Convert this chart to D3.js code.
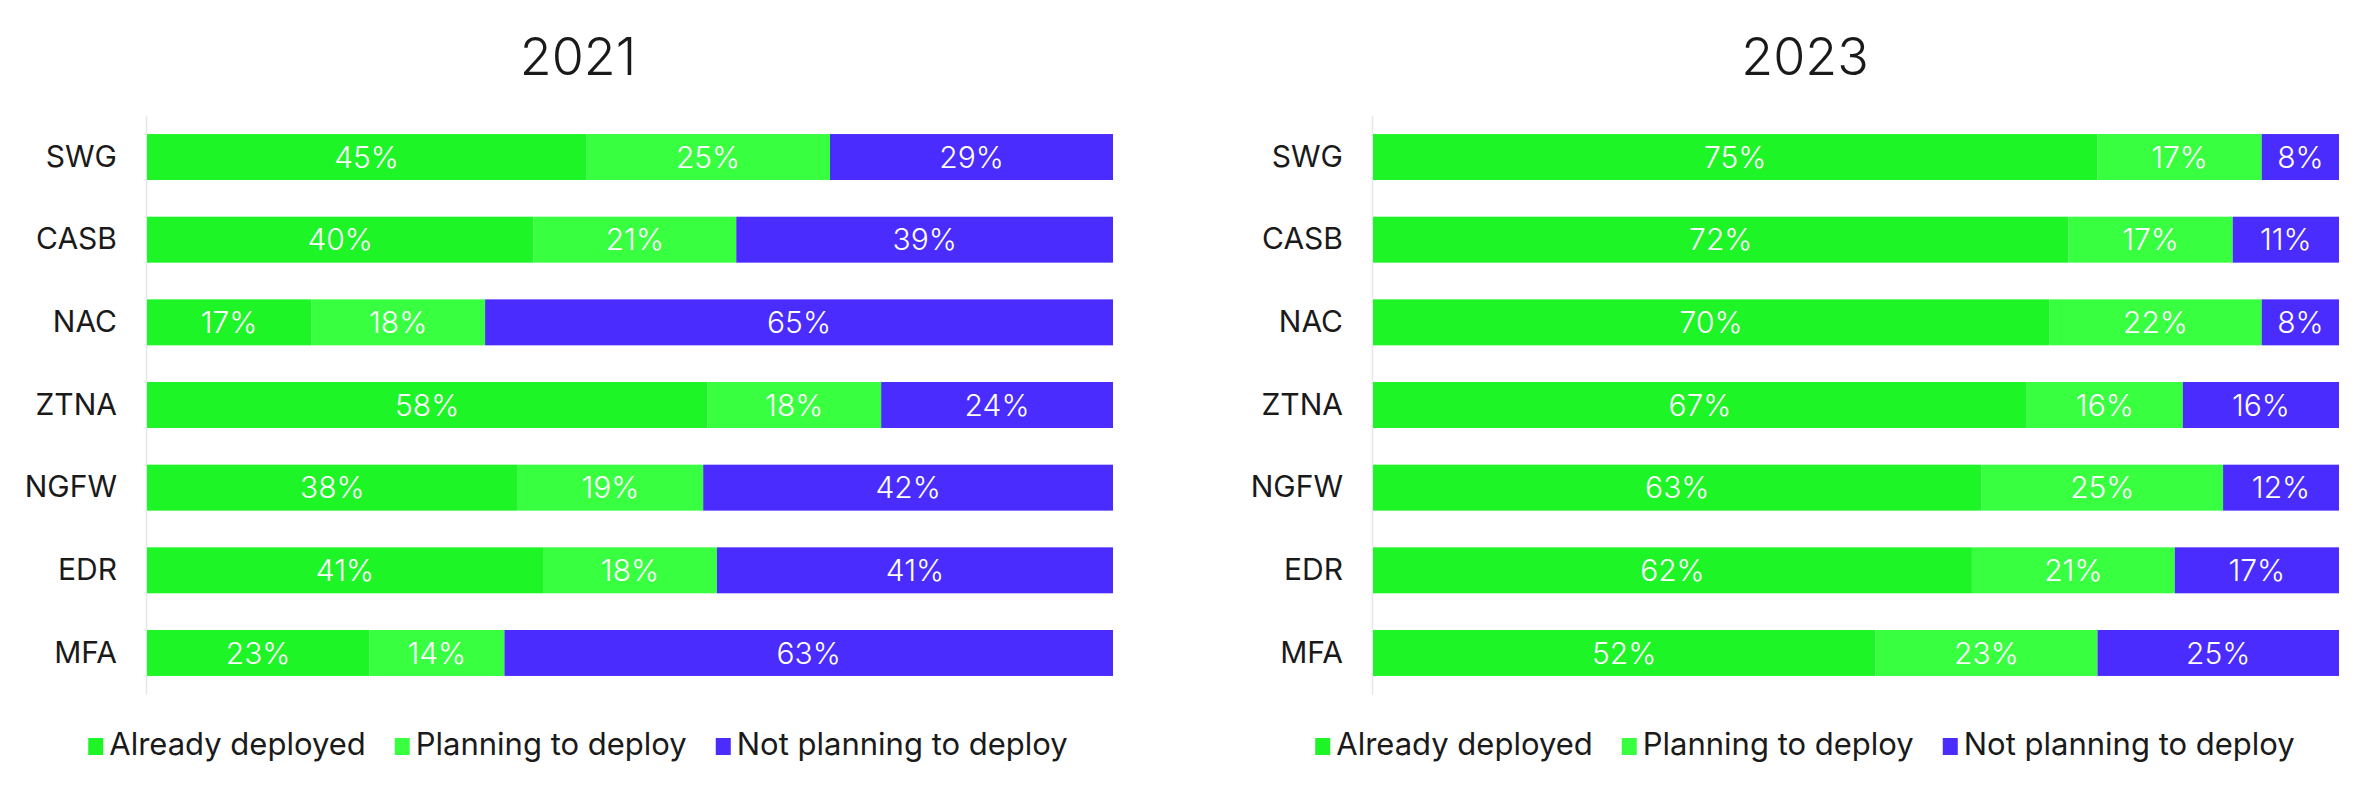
<!DOCTYPE html>
<html>
<head>
<meta charset="utf-8">
<script src="https://cdn.jsdelivr.net/npm/d3@7"></script>
<style>
  body { margin: 0; background: #fff; }
  svg { display: block; font-family: Inter, "Noto Sans", sans-serif; }
</style>
</head>
<body>
<div id="chart"></div>
<script>
// ************************** data **************************
const categories = ["SWG", "CASB", "NAC", "ZTNA", "NGFW", "EDR", "MFA"];
const seriesNames = ["Already deployed", "Planning to deploy", "Not planning to deploy"];

const already2021 = [45, 40, 17, 58, 38, 41, 23];
const planning2021 = [25, 21, 18, 18, 19, 18, 14];
const notPlanning2021 = [29, 39, 65, 24, 42, 41, 63];

const already2023 = [75, 72, 70, 67, 63, 62, 52];
const planning2023 = [17, 17, 22, 16, 25, 21, 23];
const notPlanning2023 = [8, 11, 8, 16, 12, 17, 25];

const colors = ["#1df526", "#38ff40", "#4a2cff"];

const width = 2371;
const height = 805;

const svg = d3
  .select("#chart")
  .append("svg")
  .attr("width", width)
  .attr("height", height);

function toRows(a, b, c) {
  return categories.map((cat, i) => ({
    cat: cat,
    [seriesNames[0]]: a[i],
    [seriesNames[1]]: b[i],
    [seriesNames[2]]: c[i],
  }));
}

// ************************** one panel **************************
function renderPanel(
  rows,
  {
    title,
    center, // x of title and legend centre
    xRange, // [left, right] of the bars
    yRange = [115.7, 694.3],
  } = {}
) {
  const g = svg.append("g");

  const series = d3
    .stack()
    .keys(seriesNames)
    .offset(d3.stackOffsetExpand)(rows);

  const xScale = d3.scaleLinear([0, 1], xRange);
  const yScale = d3
    .scaleBand(categories, yRange)
    .paddingInner(0.444)
    .paddingOuter(0.222);
  const color = d3.scaleOrdinal(seriesNames, colors);

  // title
  g.append("text")
    .attr("x", center)
    .attr("y", 75)
    .attr("text-anchor", "middle")
    .attr("font-size", 52)
    .attr("font-weight", 300)
    .attr("fill", "#1a1a1a")
    .text(title);

  // axis line + category labels
  g.append("g")
    .attr("transform", `translate(${xRange[0] - 1},0)`)
    .call(d3.axisLeft(yScale).tickSize(0).tickPadding(29))
    .call((a) => a.select(".domain").attr("stroke", "#e3e8ec").attr("stroke-width", 1.5))
    .call((a) =>
      a
        .selectAll(".tick text")
        .attr("font-size", 30)
        .attr("font-family", "Inter, sans-serif")
        .attr("fill", "#1a1a1a")
    );

  const layer = g
    .append("g")
    .selectAll("g")
    .data(series)
    .join("g")
    .attr("fill", (d) => color(d.key));

  layer
    .selectAll("rect")
    .data((d) => d)
    .join("rect")
    .attr("x", (d) => xScale(d[0]))
    .attr("y", (d) => yScale(d.data.cat))
    .attr("width", (d) => xScale(d[1]) - xScale(d[0]))
    .attr("height", yScale.bandwidth());

  // value labels
  g.append("g")
    .selectAll("g")
    .data(series)
    .join("g")
    .selectAll("text")
    .data((d) => d.map((p) => ({ p, key: d.key })))
    .join("text")
    .attr("x", (d) => (xScale(d.p[0]) + xScale(d.p[1])) / 2)
    .attr("y", (d) => yScale(d.p.data.cat) + yScale.bandwidth() / 2)
    .attr("dy", "0.36em")
    .attr("text-anchor", "middle")
    .attr("font-size", 30)
    .attr("font-weight", 300)
    .attr("fill", "#fff")
    .text((d) => d.p.data[d.key] + "%");

  // legend
  const legend = g.append("g");
  let x = 0;
  seriesNames.forEach((name, i) => {
    const item = legend.append("g").attr("transform", `translate(${x},0)`);
    item
      .append("rect")
      .attr("x", 0)
      .attr("y", -17)
      .attr("width", 15)
      .attr("height", 17)
      .attr("fill", color(name));
    const t = item
      .append("text")
      .attr("x", 21)
      .attr("y", 0)
      .attr("font-size", 31)
      .attr("fill", "#1a1a1a")
      .text(name);
    x += 21 + t.node().getComputedTextLength() + 29;
  });
  const legendWidth = x - 29;
  legend.attr("transform", `translate(${center - legendWidth / 2},755)`);
}

renderPanel(toRows(already2021, planning2021, notPlanning2021), {
  title: "2021",
  center: 578,
  xRange: [147, 1113],
});

renderPanel(toRows(already2023, planning2023, notPlanning2023), {
  title: "2023",
  center: 1805,
  xRange: [1373, 2339],
});
</script>
</body>
</html>
